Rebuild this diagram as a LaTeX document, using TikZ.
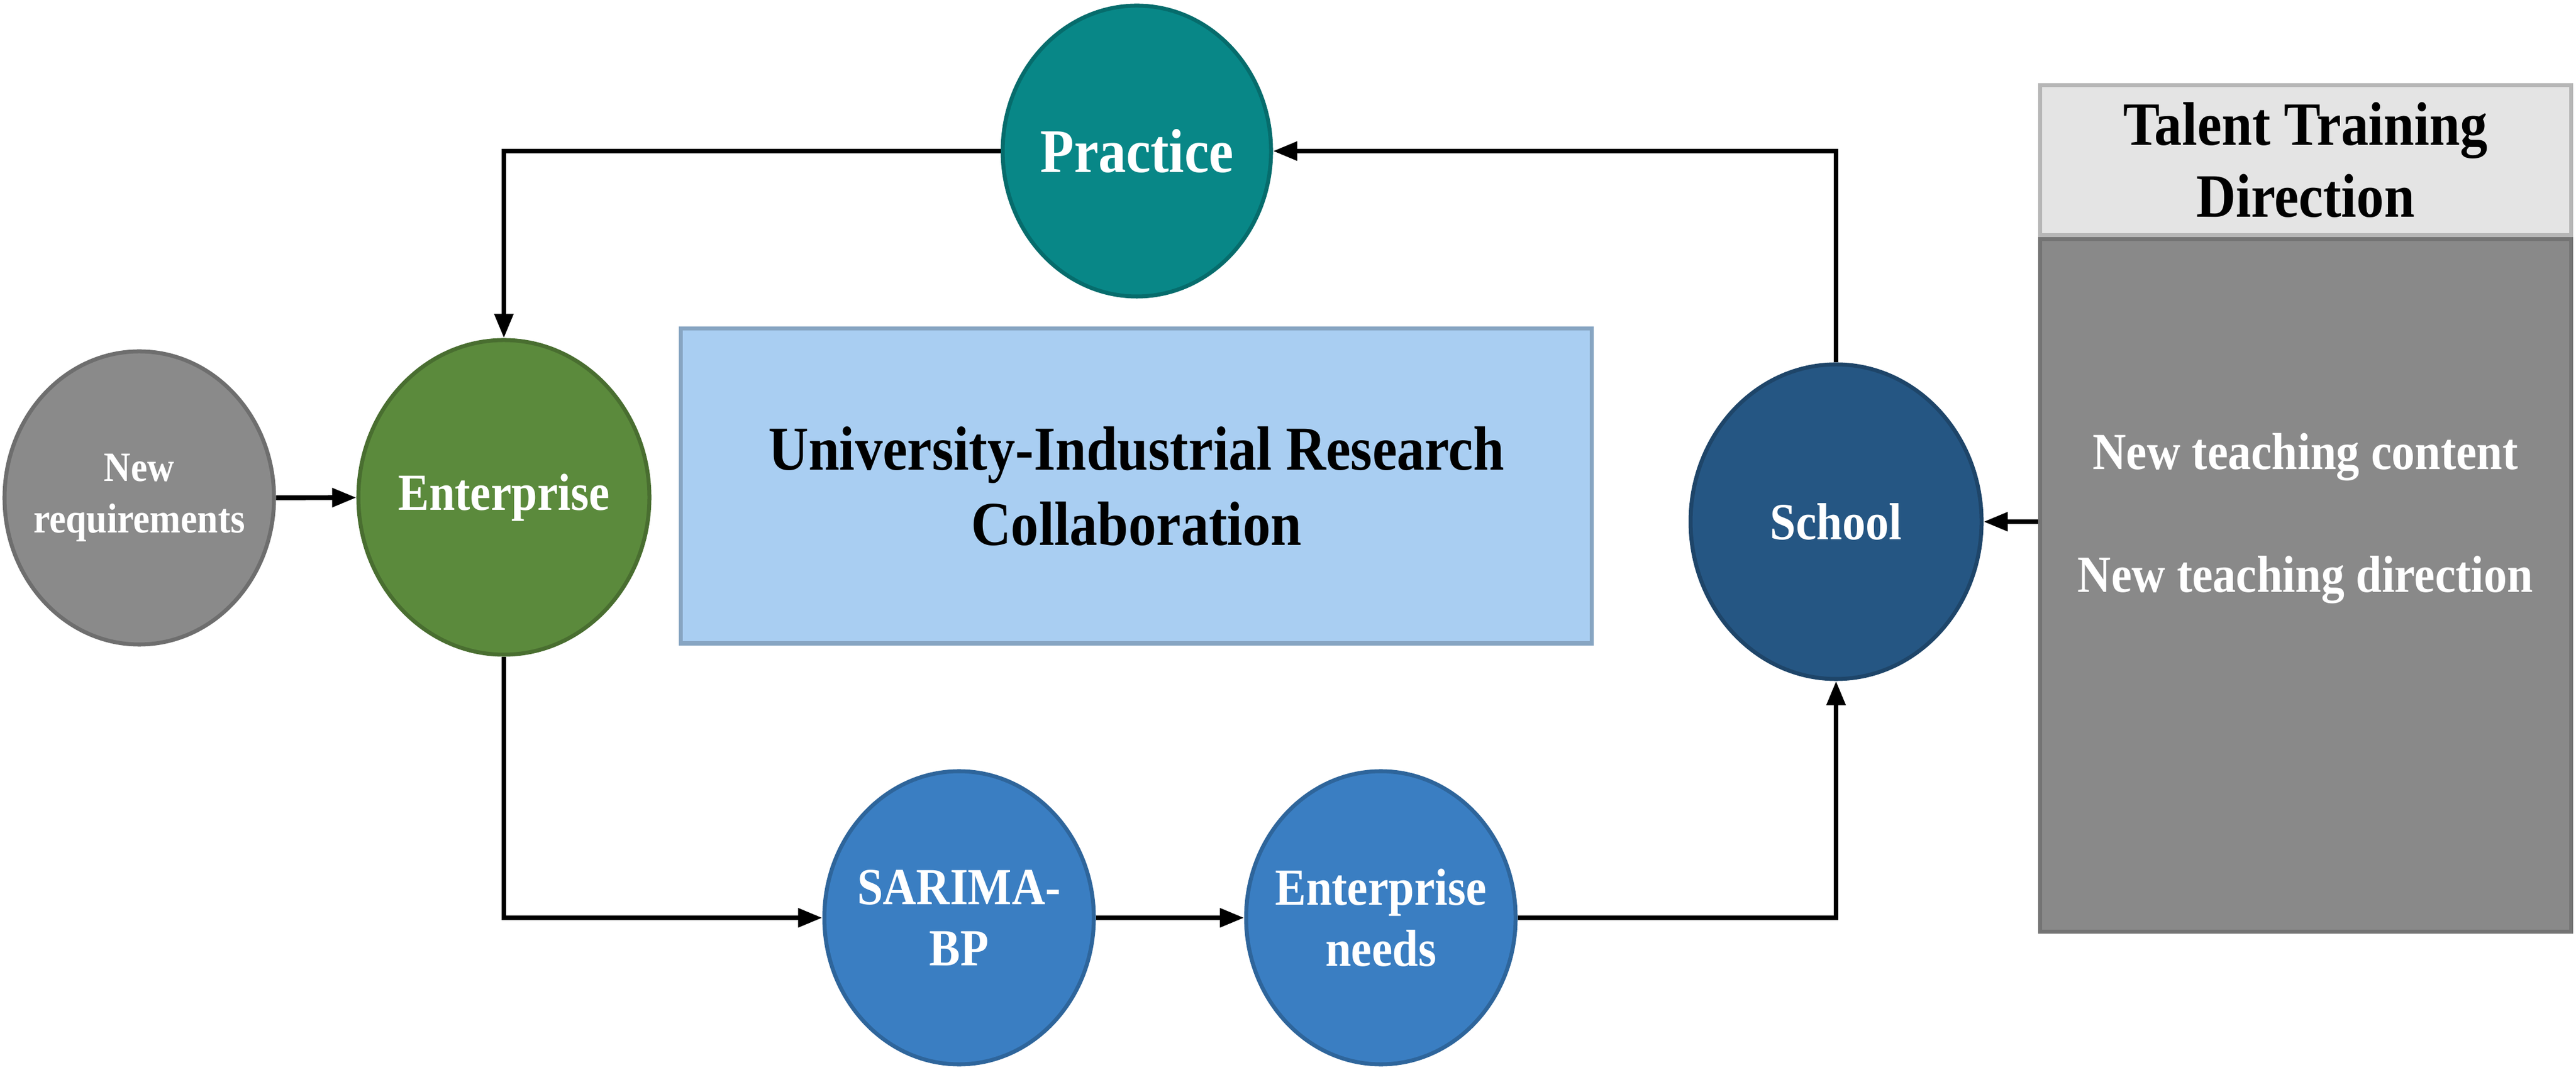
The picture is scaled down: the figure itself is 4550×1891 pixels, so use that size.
\documentclass[tikz,border=0pt]{standalone}
\usepackage[usenames,dvipsnames,svgnames,table]{xcolor}
\usepackage{fontspec}
\setmainfont{Liberation Serif}[FakeStretch=0.89]
\usepackage{tikz}
\usetikzlibrary{arrows.meta,shapes.geometric}

\definecolor{practiceteal}{HTML}{088787}
\definecolor{enterprisegreen}{HTML}{5B8A3C}
\definecolor{requestgray}{HTML}{8A8A8A}
\definecolor{modelblue}{HTML}{3A7EC2}
\definecolor{schoolblue}{HTML}{255683}
\definecolor{collabblue}{HTML}{A9CEF2}
\definecolor{headgray}{HTML}{E4E4E4}
\definecolor{panelgray}{HTML}{898989}

\tikzset{
  bubble/.style={ellipse, inner sep=0pt, minimum width=23.8mm, minimum height=25.9mm, line width=1pt},
  big bubble/.style={bubble, minimum width=25.7mm, minimum height=27.8mm},
  bubble text/.style={text=white, align=center, font=\bfseries\fontsize{13.1}{15.4}\selectfont},
  flow/.style={line width=1.2pt, -{Triangle[length=6.1pt,width=4.6pt]}},
}

\begin{document}
\begin{tikzpicture}[x=0.05mm, y=-0.05mm]
			\useasboundingbox (0,0) rectangle (4550,1891);
			
			\node[bubble, fill=requestgray, draw=requestgray!80!black, label={[bubble text, font=\bfseries\fontsize{10.5}{13}\selectfont]center:New\\requirements}] (newreq) at (246,880) {};
			\node[big bubble, fill=enterprisegreen, draw=enterprisegreen!80!black, label={[bubble text]center:Enterprise}] (enterprise) at (890,879) {};
			\node[bubble, minimum width=23.7mm, minimum height=25.7mm, fill=practiceteal, draw=practiceteal!80!black, label={[bubble text, font=\bfseries\fontsize{15.6}{18}\selectfont]center:Practice}] (practice) at (2008,267) {};
			\node[bubble, fill=modelblue, draw=modelblue!80!black, label={[bubble text]center:SARIMA-\\BP}] (sarima) at (1694,1622) {};
			\node[bubble, fill=modelblue, draw=modelblue!80!black, label={[bubble text]center:Enterprise\\needs}] (needs) at (2439,1622) {};
			\node[big bubble, fill=schoolblue, draw=schoolblue!80!black, label={[bubble text]center:School}] (school) at (3243,922) {};
			
			\node[rectangle, minimum width=80.45mm, minimum height=27.8mm, fill=collabblue, draw=collabblue!80!black, line width=1pt, align=center, font=\bfseries\fontsize{15.7}{18.9}\selectfont] (collab) at (2007,859) {University-Industrial Research\\Collaboration};
			
			\node[rectangle, minimum width=46.9mm, minimum height=13.25mm, fill=headgray, draw=headgray!80!black, line width=1pt, align=center, font=\bfseries\fontsize{15.5}{18}\selectfont] (header) at (4072,283) {Talent Training\\Direction};
			\node[rectangle, minimum width=46.9mm, minimum height=61.2mm, fill=panelgray, draw=panelgray!85!black, line width=1pt, anchor=north] (panel) at (header.south) {};
			\node[bubble text] (content) at (4072,808) {New teaching content};
			\node[bubble text] (direction) at (4072,1025) {New teaching direction};
			
			\draw [flow] (newreq) -- (enterprise);
			\draw [flow] (practice.west) -| (enterprise.north);
			\draw [flow] (school.north) |- (practice.east);
			\draw [flow] (enterprise.south) |- (sarima.west);
			\draw [flow] (sarima) -- (needs);
			\draw [flow] (needs.east) -| (school.south);
			\draw [flow] (panel.west |- school.east) -- (school.east);
		\end{tikzpicture}
\end{document}
